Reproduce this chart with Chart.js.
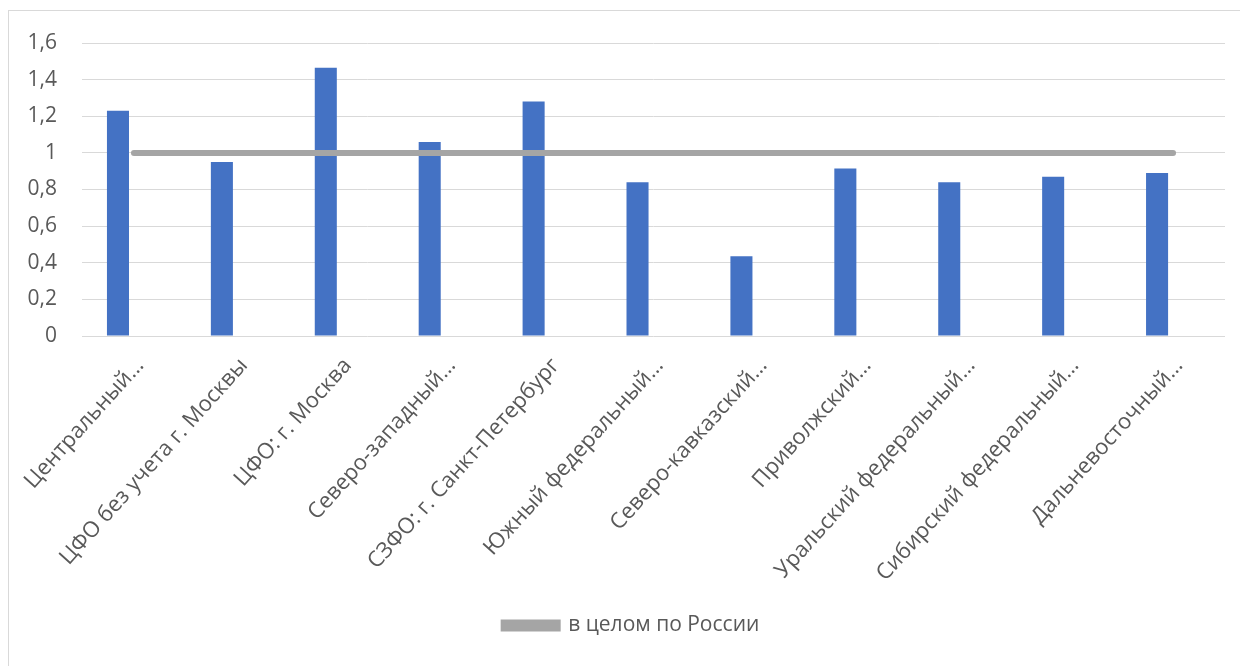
<!DOCTYPE html>
<html>
<head>
<meta charset="utf-8">
<script src="https://cdn.jsdelivr.net/npm/chart.js@4/dist/chart.umd.min.js"></script>
<style>
  html, body { margin: 0; padding: 0; background: #ffffff; }
  body { width: 1240px; height: 666px; position: relative; overflow: hidden; }
  #frame { position: absolute; left: 8px; top: 10px; width: 1250px; height: 680px;
           border-left: 1px solid #d9d9d9; border-top: 1px solid #d9d9d9; box-sizing: border-box; }
  #wrap { position: absolute; left: 0; top: 0; width: 1240px; height: 666px; }
</style>
</head>
<body>
<div id="frame"></div>
<div id="wrap"><canvas id="c" width="1240" height="666"></canvas></div>
<script>
const categories = [
  "Центральный…",
  "ЦФО без учета г. Москвы",
  "ЦФО: г. Москва",
  "Северо-западный…",
  "СЗФО: г. Санкт-Петербург",
  "Южный федеральный…",
  "Северо-кавказский…",
  "Приволжский…",
  "Уральский федеральный…",
  "Сибирский федеральный…",
  "Дальневосточный…"
];
const regionValues = [1.23, 0.95, 1.465, 1.06, 1.28, 0.84, 0.435, 0.915, 0.84, 0.87, 0.89];
const russiaAvg = [1, 1, 1, 1, 1, 1, 1, 1, 1, 1, 1];
const emptySeries = [null, null, null, null, null, null, null, null, null, null, null];
const lineLabel = "в целом по России";

const GRAY_TEXT = '#595959';
const FONT = '"Open Sans", "Liberation Sans", sans-serif';

// nudge the bottom legend slightly right (Excel centres it on the whole frame)
const legendNudge = {
  id: 'legendNudge',
  afterLayout(chart) {
    if (chart.legend) { chart.legend.left += 19; chart.legend.right += 19; }
  }
};

new Chart(document.getElementById('c'), {
  plugins: [legendNudge],
  data: {
    labels: categories,
    datasets: [
      {
        type: 'line',
        label: lineLabel,
        data: russiaAvg,
        borderColor: '#a5a5a5',
        backgroundColor: '#a5a5a5',
        borderWidth: 6,
        borderCapStyle: 'round',
        pointRadius: 0,
        fill: false,
        order: 0
      },
      {
        type: 'bar',
        label: 'regions',
        data: regionValues,
        backgroundColor: '#4472c4',
        categoryPercentage: 0.615,
        barPercentage: 0.69,
        order: 1
      },
      {
        type: 'bar',
        label: 'spacer',
        data: emptySeries,
        backgroundColor: 'rgba(0,0,0,0)',
        categoryPercentage: 0.615,
        barPercentage: 0.69,
        order: 2
      }
    ]
  },
  options: {
    responsive: false,
    animation: false,
    devicePixelRatio: 1,
    layout: { padding: { left: 0, right: 15, top: 43, bottom: 20 } },
    plugins: {
      tooltip: { enabled: false },
      legend: {
        position: 'bottom',
        labels: {
          filter: (item) => item.datasetIndex === 0,
          boxWidth: 54,
          boxHeight: 6,
          color: GRAY_TEXT,
          font: { family: FONT, size: 21 },
          padding: 6
        }
      }
    },
    scales: {
      x: {
        grid: { display: false },
        border: { display: false },
        ticks: {
          color: GRAY_TEXT,
          font: { family: FONT, size: 22 },
          minRotation: 48,
          maxRotation: 48,
          autoSkip: false,
          padding: 9,
          labelOffset: 6
        },
        afterFit: (scale) => { scale.height = 273; }
      },
      y: {
        min: 0,
        max: 1.6,
        grid: { color: '#d9d9d9', lineWidth: 1, drawTicks: false },
        border: { display: false },
        ticks: {
          stepSize: 0.2,
          color: GRAY_TEXT,
          font: { family: FONT, size: 21 },
          padding: 25,
          callback: (v) => String(Number(v.toFixed(1))).replace('.', ',')
        },
        afterFit: (scale) => { scale.width = 82; }
      }
    }
  }
});
</script>
</body>
</html>
